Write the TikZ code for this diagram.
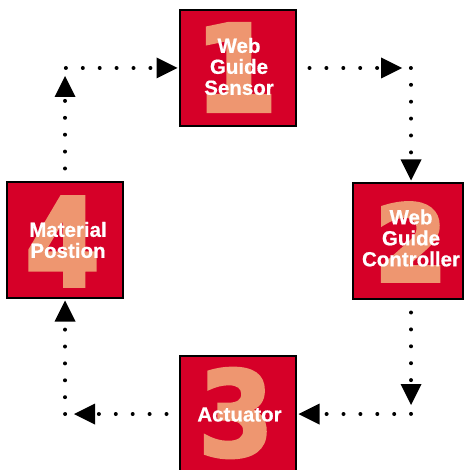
\documentclass[tikz,border=0pt]{standalone}
\usepackage{fontspec}
\setmainfont{Liberation Sans}[BoldFeatures={FakeBold=0.6}]
\newfontfamily\digitfont{DejaVu Sans}[BoldFeatures={FakeBold=3}]
\usetikzlibrary{decorations.markings}
\definecolor{boxred}{RGB}{214,0,40}
\definecolor{numsalmon}{RGB}{238,150,112}
\tikzset{
  stepbox/.style={draw=black, line width=1.2pt, fill=boxred, minimum width=116pt,
    minimum height=116pt, inner sep=0pt, outer sep=0pt},
  bignum/.style={text=numsalmon, inner sep=0pt},
  steptext/.style={text=white, align=center, inner sep=0pt,
    font=\bfseries\fontsize{20.5}{21}\selectfont},
  conn/.style={line width=4pt, line cap=round, dash pattern=on 0pt off 16.9pt,
    dash phase=3.4pt, postaction={decorate}, decoration={markings,
      mark=at position 106pt with {\fill[black] (0,0) -- (-21,10.5) -- (-21,-10.5) -- cycle;},
      mark=at position -2.5pt with {\fill[black] (0,0) -- (-21,10.5) -- (-21,-10.5) -- cycle;}}}
}
\begin{document}
\begin{tikzpicture}[x=1pt,y=-1pt]
\useasboundingbox (0,0) rectangle (463,470);
% boxes
\node[stepbox] (b1) at (238,68) {};
\node[stepbox, minimum width=110pt] (b2) at (408,241) {};
\node[stepbox] (b3) at (238,414) {};
\node[stepbox] (b4) at (65,240) {};
% numerals
\node[bignum, font=\digitfont\bfseries\fontsize{120}{120}\selectfont] (d1) at (236,67.5) {1};
\node[bignum, font=\digitfont\bfseries\fontsize{106}{106}\selectfont] (d2) at (411,242) {2};
\node[bignum, font=\digitfont\bfseries\fontsize{118}{118}\selectfont, xscale=0.92] (d3) at (236,413) {3};
\node[bignum, font=\digitfont\bfseries\fontsize{122}{122}\selectfont, xscale=0.88] (d4) at (62.5,241.5) {4};
% labels
\node[steptext] (t1) at (239,66.5) {Web\\Guide\\Sensor};
\node[steptext] (t2) at (411,238) {Web\\Guide\\Controller};
\node[steptext] (t3) at (239.5,414.5) {Actuator};
\node[steptext] (t4) at (68,240) {Material\\Postion};
% connectors
\draw[conn] (b4.north) |- (b1.west);
\draw[conn] (b1.east) -| ([xshift=3pt]b2.north);
\draw[conn] ([xshift=3pt]b2.south) |- (b3.east);
\draw[conn] (b3.west) -| (b4.south);
\end{tikzpicture}
\end{document}
